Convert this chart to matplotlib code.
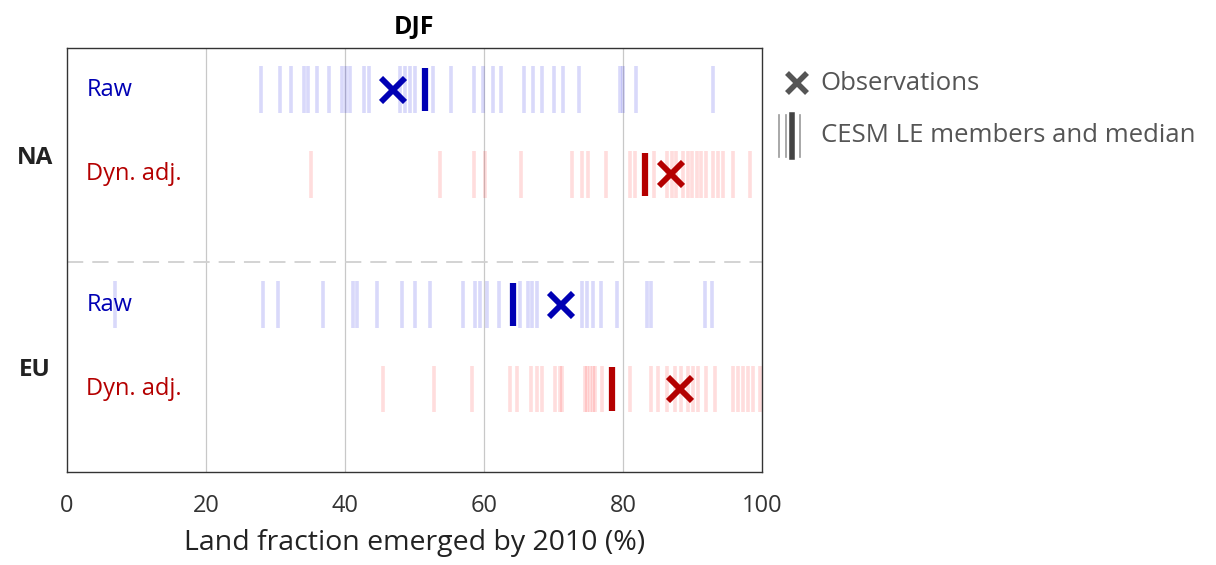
import matplotlib

matplotlib.use("Agg")
import matplotlib.pyplot as plt
from matplotlib.lines import Line2D

plt.rcParams["font.family"] = ["Open Sans", "DejaVu Sans"]

# ensemble members (%)
na_raw = [27.9, 30.6, 32.2, 34.1, 34.7, 36.0, 37.7, 39.5, 40.1, 40.7, 42.7, 43.5,
          47.9, 48.6, 49.3, 50.1, 52.7, 55.2, 58.5, 59.8, 61.3, 62.5, 65.7, 67.1,
          68.4, 70.1, 71.4, 73.7, 79.6, 80.0, 81.9, 93.0]
na_dyn = [35.1, 53.7, 58.6, 60.1, 65.4, 72.6, 74.1, 75.0, 77.6, 81.0, 81.7, 84.4,
          86.3, 87.0, 87.7, 88.7, 89.4, 89.9, 90.6, 91.3, 92.0, 93.0, 93.7, 94.4,
          95.9, 98.3]
eu_raw = [6.9, 28.2, 30.4, 36.9, 41.1, 41.8, 44.6, 48.2, 50.1, 52.2, 57.0, 58.7,
          59.4, 60.4, 62.1, 65.2, 66.3, 66.9, 67.6, 74.1, 74.8, 75.7, 76.9, 79.1,
          83.4, 84.1, 91.8, 92.8]
eu_dyn = [45.4, 52.8, 58.3, 63.7, 64.8, 66.7, 67.6, 68.4, 70.2, 70.9, 71.2, 74.5,
          74.8, 75.3, 75.7, 76.0, 77.0, 81.0, 84.1, 85.1, 86.3, 87.5, 88.4, 89.4,
          90.1, 90.8, 92.0, 93.2, 95.9, 96.6, 97.3, 98.0, 98.7, 99.7]

medians = [51.5, 83.2, 64.2, 78.4]
observations = [46.9, 86.9, 71.1, 88.2]

row_labels = ["Raw", "Dyn. adj.", "Raw", "Dyn. adj."]
region_labels = ["NA", "EU"]
x_ticks = [0, 20, 40, 60, 80, 100]

blue_light = "#0000e0"
blue_dark = "#0000b4"
red_light = "#ff2020"
red_dark = "#b40000"

members = [na_raw, na_dyn, eu_raw, eu_dyn]
row_y = [0.902, 0.702, 0.395, 0.196]
light_cols = [blue_light, red_light, blue_light, red_light]
dark_cols = [blue_dark, red_dark, blue_dark, red_dark]
half_h = 0.055

fig = plt.figure(figsize=(12.16, 5.65), dpi=100)
ax = fig.add_axes([0.0551, 0.1646, 0.5715, 0.7504])

for vals, y, lc, dc, med, obs in zip(members, row_y, light_cols, dark_cols,
                                     medians, observations):
    ax.vlines(vals, y - half_h, y + half_h, colors=lc, alpha=0.15, linewidth=2.6)
    ax.vlines(med, y - half_h + 0.004, y + half_h - 0.004, colors=dc, linewidth=4.5)
    ax.plot(obs, y, marker="x", color=dc, markersize=17, markeredgewidth=4.2)

# row labels: x in axes coords, y in data
for lbl, y, dc in zip(row_labels, row_y, dark_cols):
    ax.text(0.028, y, lbl, color=dc, fontsize=17, ha="left", va="center",
            transform=ax.get_yaxis_transform())

ax.axhline(0.495, color="#d0d0d0", linestyle=(0, (9, 5)), linewidth=1.3)

for x in x_ticks[1:-1]:
    ax.axvline(x, color="#c8c8c8", linewidth=0.9, zorder=0)

ax.set_xlim(0, 100)
ax.set_ylim(0, 1)
ax.set_xticks(x_ticks)
ax.set_yticks([])
ax.tick_params(axis="x", direction="in", length=0, labelsize=17, pad=16,
               labelcolor="#333333")
for s in ax.spines.values():
    s.set_color("#333333")
    s.set_linewidth(1.0)
ax.set_xlabel("Land fraction emerged by 2010 (%)", fontsize=20.5, color="#222222",
              labelpad=8)
ax.set_title("DJF", fontsize=18, fontweight="bold", pad=10)

for lbl, y in zip(region_labels, [0.74, 0.24]):
    ax.text(-0.046, y, lbl, transform=ax.transAxes, fontsize=17.5, fontweight="bold",
            ha="center", va="center", color="#222222")

# legend drawn by hand, outside the axes
grey = "#555555"
fig.add_artist(Line2D([0.6555], [0.853], marker="x", color=grey, markersize=15,
                      markeredgewidth=4, transform=fig.transFigure))
fig.text(0.675, 0.853, "Observations", fontsize=18.5, color=grey, va="center")
for xf, lw, c in [(0.6410, 1.2, "#999999"), (0.6460, 1.2, "#999999"),
                  (0.6515, 4.0, "#444444"), (0.6575, 1.2, "#999999")]:
    fig.add_artist(Line2D([xf, xf], [0.722, 0.796], color=c, linewidth=lw,
                          transform=fig.transFigure))
fig.text(0.675, 0.760, "CESM LE members and median", fontsize=18.5, color=grey,
         va="center")

fig.savefig("out.png", dpi=100)
